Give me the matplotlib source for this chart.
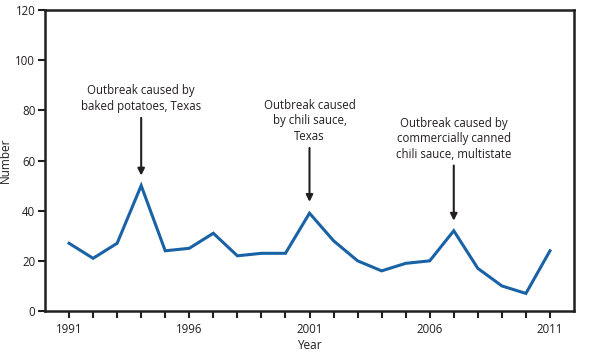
import numpy as np
import matplotlib.pyplot as plt

plt.rcParams['font.family'] = ['Open Sans', 'DejaVu Sans']

# Yearly numbers
years = list(range(1991, 2012))
counts = [27, 21, 27, 50, 24, 25, 31, 22, 23, 23, 39, 28, 20, 16, 19, 20, 32, 17, 10, 7, 24]

# annotations: (year, text, arrow start, arrow tip)
notes = [
    (1994, 'Outbreak caused by\nbaked potatoes, Texas', 77, 54),
    (2001, 'Outbreak caused\nby chili sauce,\nTexas', 65, 43.5),
    (2007, 'Outbreak caused by\ncommercially canned\nchili sauce, multistate', 58, 36),
]

fig = plt.figure(figsize=(5.93, 3.53), dpi=100)
ax = fig.add_axes([45 / 593, 1 - 311 / 353, 529 / 593, 301 / 353])

ax.plot(years, counts, color='#1a62a6', lw=2.2, solid_joinstyle='miter')

for yr, txt, y0, y1 in notes:
    ax.annotate('', xy=(yr, y1), xytext=(yr, y0),
                arrowprops=dict(arrowstyle='-|>', color='#231f20', lw=1.5,
                                mutation_scale=10, shrinkA=0, shrinkB=0))
    ax.text(yr, y0 + 2, txt, ha='center', va='bottom', fontsize=8.3,
            color='#231f20', linespacing=1.25)

ax.set_xlim(1990, 2012)
ax.set_ylim(0, 120)
ax.set_yticks(np.arange(0, 121, 20))
ax.set_xticks(years)
ax.set_xticklabels([str(y) if (y - 1991) % 5 == 0 else '' for y in years])
ax.tick_params(direction='out', length=5, width=1.5, labelsize=8.3, colors='#231f20')
ax.tick_params(axis='y', pad=2)
for s in ax.spines.values():
    s.set_linewidth(1.8)
    s.set_color('#231f20')
ax.set_xlabel('Year', fontsize=8.5, color='#231f20', labelpad=2)
ax.set_ylabel('Number', fontsize=8.5, color='#231f20')
ax.yaxis.set_label_coords(-0.062, 0.5)

fig.savefig('out.png', dpi=100)
